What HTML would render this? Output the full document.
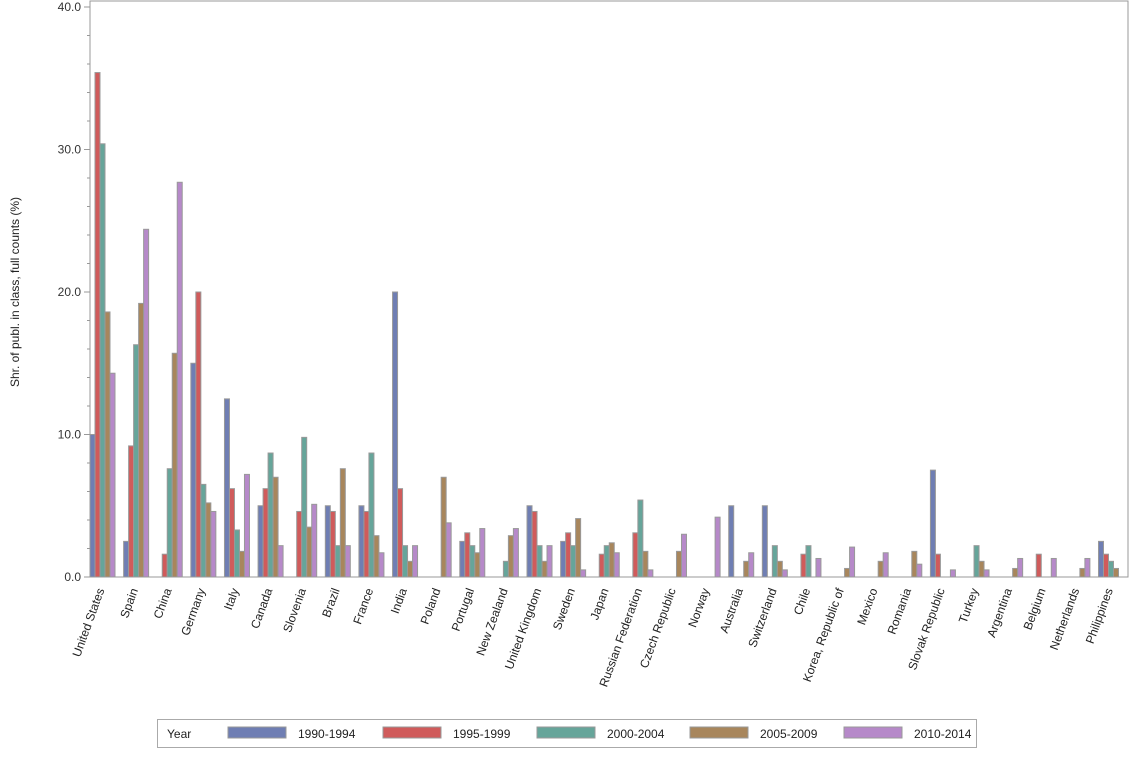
<!DOCTYPE html>
<html><head><meta charset="utf-8"><style>
body{margin:0;background:#fff;font-family:"Liberation Sans",sans-serif;}
svg text{font-family:"Liberation Sans",sans-serif;}
</style></head><body>
<svg id="c" width="1134" height="756" xmlns="http://www.w3.org/2000/svg"></svg>
<script>
const categories=["United States","Spain","China","Germany","Italy","Canada","Slovenia","Brazil","France","India","Poland","Portugal","New Zealand","United Kingdom","Sweden","Japan","Russian Federation","Czech Republic","Norway","Australia","Switzerland","Chile","Korea, Republic of","Mexico","Romania","Slovak Republic","Turkey","Argentina","Belgium","Netherlands","Philippines"];
const seriesNames=["1990-1994","1995-1999","2000-2004","2005-2009","2010-2014"];
const s1990=[10,2.5,0,15,12.5,5,0,5,5,20,0,2.5,0,5,2.5,0,0,0,0,5,5,0,0,0,0,7.5,0,0,0,0,2.5];
const s1995=[35.4,9.2,1.6,20,6.2,6.2,4.6,4.6,4.6,6.2,0,3.1,0,4.6,3.1,1.6,3.1,0,0,0,0,1.6,0,0,0,1.6,0,0,1.6,0,1.6];
const s2000=[30.4,16.3,7.6,6.5,3.3,8.7,9.8,2.2,8.7,2.2,0,2.2,1.1,2.2,2.2,2.2,5.4,0,0,0,2.2,2.2,0,0,0,0,2.2,0,0,0,1.1];
const s2005=[18.6,19.2,15.7,5.2,1.8,7,3.5,7.6,2.9,1.1,7,1.7,2.9,1.1,4.1,2.4,1.8,1.8,0,1.1,1.1,0,0.6,1.1,1.8,0,1.1,0.6,0,0.6,0.6];
const s2010=[14.3,24.4,27.7,4.6,7.2,2.2,5.1,2.2,1.7,2.2,3.8,3.4,3.4,2.2,0.5,1.7,0.5,3.0,4.2,1.7,0.5,1.3,2.1,1.7,0.9,0.5,0.5,1.3,1.3,1.3,0];
const yTicks=[0,10,20,30,40];
const series=[s1990,s1995,s2000,s2005,s2010];
const colors=["#6f7eb3","#d05b5b","#66a59a","#a8865c","#b689c9"];
const NS="http://www.w3.org/2000/svg";
const svg=document.getElementById('c');
const X0=90,X1=1128,Y0=577,Y1=7;
function y(v){return Y0-(v/40)*(Y0-Y1);}
function xc(i){return 102.5+i*((1111-102.5)/(categories.length-1));}
function mk(t,a){const e=document.createElementNS(NS,t);for(const k in a)e.setAttribute(k,a[k]);svg.appendChild(e);return e;}
let e;
e=mk('rect',{x:X0,y:Y1-6,width:X1-X0,height:Y0-Y1+6,fill:'none',stroke:'#999'});


for(let t=0;t<=40;t+=2){
 const major=t%10===0;
 e=mk('line',{x1:major?84:87,x2:X0,y1:y(t),y2:y(t),stroke:'#999'});
 
 
}
yTicks.forEach(t=>{
 e=mk('text',{x:81,y:y(t)+4,'text-anchor':'end','font-size':12,fill:'#333'});e.textContent=t.toFixed(1);
 
 
});
e=mk('text',{transform:'translate(19,292) rotate(-90)','text-anchor':'middle','font-size':12,fill:'#222'});
e.textContent='Shr. of publ. in class, full counts (%)';


const bw=5;
categories.forEach((c,i)=>{
 const cx=xc(i);
 series.forEach((s,j)=>{
  const v=s[i]; if(!v) return;
  const bx=cx-2.5*bw+j*bw;
  const b=mk('rect',{x:bx,y:y(v),width:bw,height:Y0-y(v),fill:colors[j],stroke:'#999','stroke-width':1});
  
  
 });
 const t=mk('text',{transform:`translate(${cx+2},590) rotate(-70)`,'text-anchor':'end','font-size':12,fill:'#222'});
 t.textContent=c;
 
 
});
e=mk('line',{x1:X0,x2:X1,y1:Y0,y2:Y0,stroke:'#999'});


e=mk('rect',{x:157.5,y:719.5,width:819,height:28,fill:'#fff',stroke:'#aaa'});


e=mk('text',{x:167,y:738,'font-size':12,fill:'#222'});e.textContent='Year';


const lx=[228,383,537,690,844];
seriesNames.forEach((n,j)=>{
 e=mk('rect',{x:lx[j],y:727,width:58,height:11,fill:colors[j],stroke:'#999'});
 
 
 e=mk('text',{x:lx[j]+70,y:738,'font-size':12,fill:'#222'});e.textContent=n;
 
 
});
</script>
</body></html>
